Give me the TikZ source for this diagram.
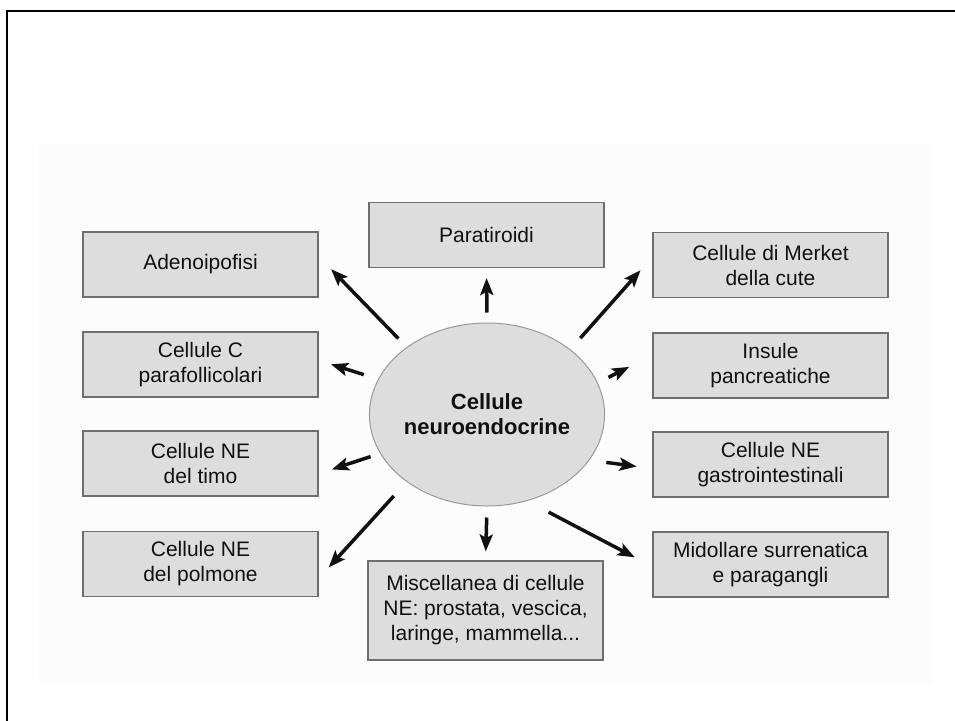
\documentclass[tikz,border=0pt]{standalone}
\usepackage{fontspec}
\setmainfont{Liberation Sans}
\usetikzlibrary{arrows.meta,shapes.geometric}

\definecolor{boxgray}{HTML}{DDDDDD}
\definecolor{boxline}{HTML}{6E6E6E}
\definecolor{ringline}{HTML}{999999}
\definecolor{txt}{HTML}{111111}
\definecolor{panel}{HTML}{FCFCFC}

\tikzset{
  cellbox/.style={draw=boxline, line width=1.1pt, fill=boxgray,
    minimum width=235pt, minimum height=65pt, inner sep=2pt,
    align=center, text=txt, font=\fontsize{21}{25}\selectfont},
  arr/.style={-{Stealth[length=17pt,width=13pt,inset=3.5pt]}, line width=3.5pt, draw=txt}
}

\begin{document}
\begin{tikzpicture}[x=1pt, y=-1pt]

    \useasboundingbox (0,0) rectangle (955,720);
    \fill[panel] (38,144) rectangle (933,683);
    \draw[line width=2.5pt] (7,730) -- (7,11) -- (965,11);

    % centre
    \node[ellipse, draw=ringline, line width=1pt, fill=boxgray,
          minimum width=221pt, minimum height=183pt, inner sep=0pt,
          align=center, text=txt, font=\bfseries\fontsize{22}{25}\selectfont]
          (cell) at (487,414.5) {Cellule\\neuroendocrine};

    % left column
    \node[cellbox] (adeno) at (200.5,264.5) {Adenoipofisi};
    \node[cellbox] (cellc) at (200.5,364.5) {Cellule C\\parafollicolari};
    \node[cellbox] (timo)  at (200.5,463.5) {Cellule NE\\del timo};
    \node[cellbox] (polm)  at (200.5,564)   {Cellule NE\\del polmone};

    % middle
    \node[cellbox] (para) at (486.5,235) {Paratiroidi};
    \node[cellbox, minimum height=99pt] (misc) at (485.5,610.5)
          {Miscellanea di cellule\\NE: prostata, vescica,\\laringe, mammella...};

    % right column
    \node[cellbox] (merket) at (770.5,265)   {Cellule di Merket\\della cute};
    \node[cellbox] (insule) at (770.5,365.5) {Insule\\pancreatiche};
    \node[cellbox] (gastro) at (770.5,464.5) {Cellule NE\\gastrointestinali};
    \node[cellbox] (midoll) at (770.5,564.5) {Midollare surrenatica\\e paragangli};

    % arrows
    \foreach \from/\to/\ga/\gb in {90/para.south/10pt/10pt, 140/adeno.4/12pt/18pt,
        162/cellc.2/15pt/13pt, 200/timo.355/10pt/14pt, 220/polm.353/19pt/15pt,
        270/misc.north/11pt/9pt, 295/midoll.181/24pt/20pt, 336/gastro.182/17pt/16pt,
        16/insule.175/12pt/26pt, 38/merket.176/15pt/18pt}
    \draw[arr, shorten <=\ga, shorten >=\gb] (cell.\from) -- (\to);

\end{tikzpicture}
\end{document}
